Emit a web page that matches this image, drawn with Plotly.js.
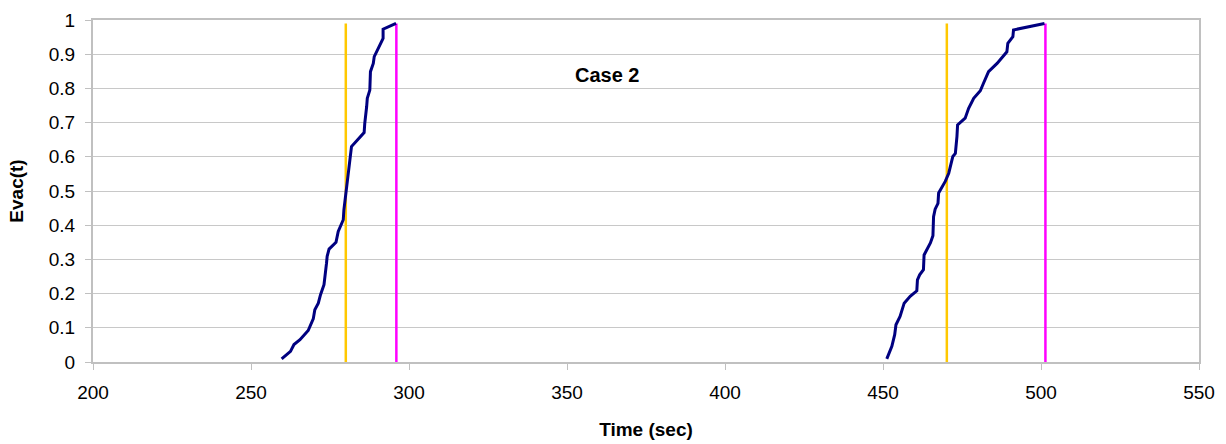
<!DOCTYPE html>
<html>
<head>
<meta charset="utf-8">
<script src="https://cdn.plot.ly/plotly-3.0.1.min.js"></script>
<style>html,body{margin:0;padding:0;background:#fff;}#chart{width:1226px;height:444px;}</style>
</head>
<body>
<div id="chart"></div>
<script>
// Curve 1 (first evacuation wave)
const time1 = [259.7, 262.5, 263.6, 265.5, 268.1, 269.7, 270.2, 271.3, 272.0, 273.1, 273.9, 274.1, 274.7, 276.9, 277.6, 278.3, 279.2, 279.4, 280.2, 281.0, 281.8, 285.8, 286.0, 286.6, 286.8, 287.6, 287.8, 288.7, 289.0, 291.8, 291.8, 295.9];
const evac1 = [0.009, 0.031, 0.051, 0.065, 0.092, 0.126, 0.153, 0.172, 0.197, 0.226, 0.289, 0.309, 0.330, 0.350, 0.382, 0.398, 0.416, 0.445, 0.503, 0.562, 0.630, 0.671, 0.698, 0.747, 0.771, 0.795, 0.849, 0.873, 0.893, 0.946, 0.973, 0.990];
// Curve 2 (second evacuation wave)
const time2 = [451.2, 452.8, 453.7, 454.1, 455.4, 456.7, 458.6, 460.7, 460.9, 461.6, 462.8, 463.0, 465.0, 465.8, 466.0, 466.5, 467.4, 467.6, 469.7, 470.8, 472.1, 472.9, 473.4, 473.6, 476.0, 477.1, 478.7, 480.8, 481.8, 483.4, 486.1, 489.2, 489.5, 491.1, 491.3, 501.1];
const evac2 = [0.009, 0.046, 0.080, 0.109, 0.133, 0.172, 0.192, 0.208, 0.240, 0.255, 0.270, 0.313, 0.348, 0.369, 0.425, 0.447, 0.464, 0.494, 0.528, 0.552, 0.601, 0.610, 0.659, 0.693, 0.713, 0.742, 0.771, 0.793, 0.815, 0.849, 0.873, 0.907, 0.932, 0.951, 0.971, 0.990];
// Vertical marker lines
const yellowTimes = [280, 470.2];
const magentaTimes = [296.0, 501.4];
const markerRange = [0, 0.99];
const xTicks = [200, 250, 300, 350, 400, 450, 500, 550];
const yTicks = [0, 0.1, 0.2, 0.3, 0.4, 0.5, 0.6, 0.7, 0.8, 0.9, 1];
const yTickText = ['0', '0.1', '0.2', '0.3', '0.4', '0.5', '0.6', '0.7', '0.8', '0.9', '1'];

const traces = [];
yellowTimes.forEach(t => traces.push({x: [t, t], y: markerRange, mode: 'lines', line: {color: '#FFC800', width: 2.5}, hoverinfo: 'skip'}));
magentaTimes.forEach(t => traces.push({x: [t, t], y: markerRange, mode: 'lines', line: {color: '#FF00FF', width: 2.5}, hoverinfo: 'skip'}));
traces.push({x: time1, y: evac1, mode: 'lines', line: {color: '#000080', width: 3}, hoverinfo: 'skip'});
traces.push({x: time2, y: evac2, mode: 'lines', line: {color: '#000080', width: 3}, hoverinfo: 'skip'});

const layout = {
  width: 1226, height: 444,
  margin: {l: 93, r: 27, t: 20, b: 82},
  paper_bgcolor: '#fff', plot_bgcolor: '#fff',
  showlegend: false,
  font: {family: 'Liberation Sans, Arial, sans-serif', color: '#000', size: 19},
  xaxis: {
    range: [200, 550], tickvals: xTicks, ticktext: xTicks.map(String),
    showgrid: false, zeroline: false, automargin: false,
    showline: true, linecolor: '#c0c0c0', linewidth: 2, mirror: true,
    ticks: 'outside', ticklen: 6, tickcolor: '#c0c0c0', tickwidth: 1,
    ticklabelstandoff: 6,
    tickfont: {size: 19},
    title: {text: '<b>Time (sec)</b>', font: {size: 19}, standoff: 21}
  },
  yaxis: {
    range: [0, 1], tickvals: yTicks, ticktext: yTickText,
    showgrid: true, gridcolor: '#c8c8c8', gridwidth: 1, zeroline: false, automargin: false,
    showline: true, linecolor: '#c0c0c0', linewidth: 2, mirror: true,
    ticks: 'outside', ticklen: 6, tickcolor: '#c0c0c0', tickwidth: 1,
    ticklabelstandoff: 6,
    tickfont: {size: 19},
    title: {text: '<b>Evac(t)</b>', font: {size: 19}, standoff: 20}
  },
  annotations: [{
    x: 362.7, y: 0.839, xref: 'x', yref: 'y', text: '<b>Case 2</b>', showarrow: false,
    font: {size: 20, color: '#000'}
  }]
};
Plotly.newPlot('chart', traces, layout, {staticPlot: true, displayModeBar: false});
</script>
</body>
</html>
